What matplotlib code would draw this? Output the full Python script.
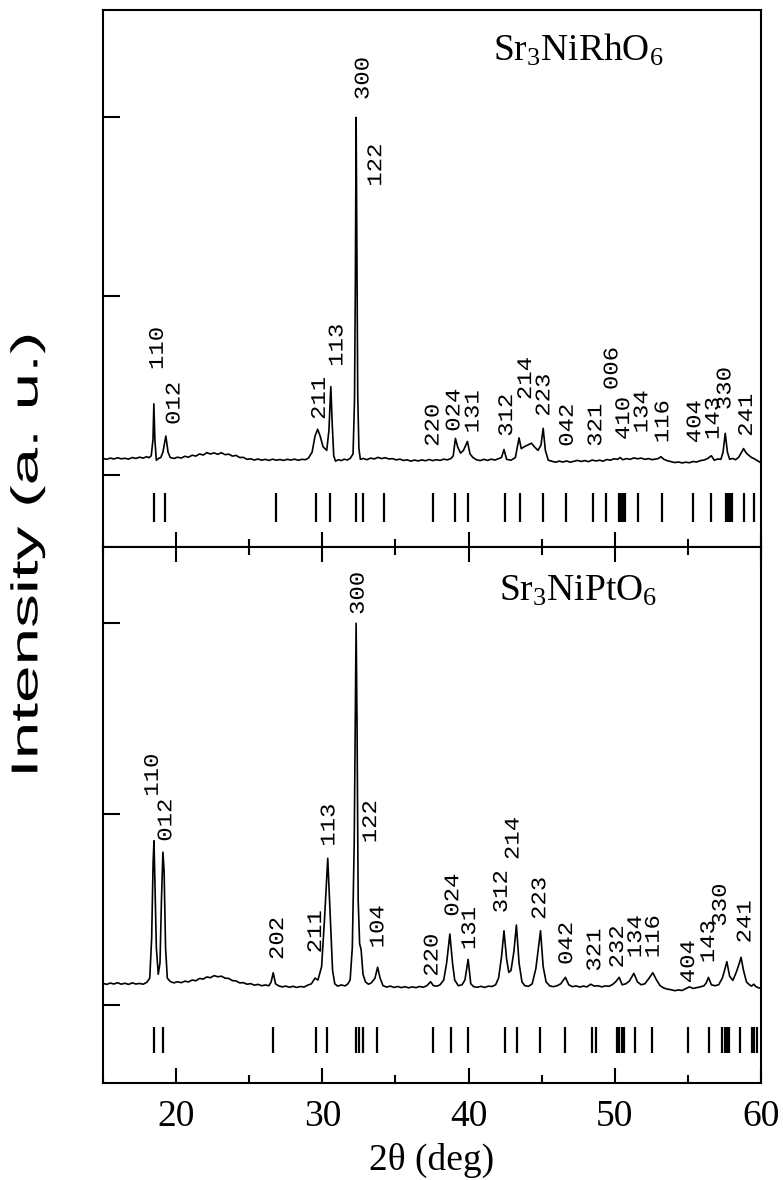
import matplotlib
matplotlib.use("Agg")
import matplotlib.pyplot as plt
from matplotlib.ticker import MultipleLocator, NullFormatter
from matplotlib.patheffects import AbstractPathEffect
from matplotlib.transforms import Affine2D

plt.rcParams['mathtext.fontset'] = 'custom'
plt.rcParams['mathtext.rm'] = 'Liberation Serif'
plt.rcParams['mathtext.it'] = 'Liberation Serif:italic'

# ---- Sr3NiRhO6 (top): pattern, arbitrary units ----
rh_x = [15.0, 15.25, 15.5, 15.75, 16.0, 16.25, 16.5, 16.75, 17.0, 17.25, 17.5, 17.75, 18.0, 18.15,
        18.3, 18.42, 18.48, 18.55, 18.65, 18.8, 18.95, 19.1, 19.3, 19.45, 19.6, 19.85, 20.1, 20.35,
        20.6, 20.85, 21.1, 21.35, 21.6, 21.85, 22.1, 22.35, 22.6, 22.85, 23.1, 23.35, 23.6, 23.85,
        24.1, 24.35, 24.6, 24.85, 25.1, 25.35, 25.6, 25.85, 26.1, 26.35, 26.6, 26.85, 27.1, 27.35,
        27.6, 27.85, 28.1, 28.35, 28.6, 28.85, 29.05, 29.3, 29.5, 29.68, 29.85, 30.05, 30.3, 30.45,
        30.58, 30.68, 30.78, 30.9, 31.1, 31.3, 31.5, 31.7, 31.9, 32.1, 32.2, 32.26, 32.31, 32.36,
        32.42, 32.5, 32.6, 32.8, 33.05, 33.3, 33.55, 33.8, 34.05, 34.3, 34.55, 34.8, 35.05, 35.3,
        35.55, 35.8, 36.05, 36.3, 36.55, 36.8, 37.05, 37.3, 37.55, 37.8, 38.05, 38.3, 38.55, 38.8,
        38.95, 39.1, 39.25, 39.45, 39.65, 39.92, 40.1, 40.3, 40.55, 40.8, 41.05, 41.3, 41.55, 41.8,
        42.05, 42.25, 42.42, 42.6, 42.9, 43.2, 43.45, 43.6, 43.8, 44.05, 44.3, 44.5, 44.75, 44.95,
        45.1, 45.25, 45.45, 45.7, 45.95, 46.2, 46.45, 46.7, 46.95, 47.2, 47.45, 47.7, 47.95, 48.2,
        48.45, 48.7, 48.95, 49.2, 49.45, 49.7, 49.95, 50.2, 50.35, 50.55, 50.8, 51.05, 51.3, 51.55,
        51.8, 52.05, 52.3, 52.55, 52.8, 53.0, 53.15, 53.35, 53.6, 53.85, 54.1, 54.35, 54.6, 54.85,
        55.1, 55.35, 55.6, 55.85, 56.1, 56.35, 56.6, 56.8, 57.05, 57.25, 57.4, 57.55, 57.7, 57.85,
        58.05, 58.25, 58.45, 58.6, 58.8, 58.95, 59.05, 59.2, 59.35, 59.5, 59.7, 59.85, 60.0]
rh_y = [0.095, 0.090, 0.097, 0.092, 0.099, 0.093, 0.096, 0.091, 0.100, 0.095, 0.102, 0.097, 0.105, 0.099,
        0.110, 0.20, 0.40, 0.20, 0.085, 0.095, 0.10, 0.13, 0.22, 0.13, 0.10, 0.095, 0.102, 0.097,
        0.107, 0.102, 0.113, 0.108, 0.12, 0.114, 0.127, 0.12, 0.126, 0.118, 0.127, 0.116, 0.119, 0.108,
        0.112, 0.100, 0.101, 0.090, 0.093, 0.086, 0.092, 0.085, 0.090, 0.084, 0.091, 0.085, 0.089, 0.084,
        0.090, 0.086, 0.091, 0.085, 0.090, 0.088, 0.097, 0.13, 0.22, 0.258, 0.22, 0.16, 0.14, 0.25,
        0.496, 0.28, 0.11, 0.08, 0.088, 0.083, 0.091, 0.086, 0.095, 0.12, 0.42, 1.10, 2.0, 1.25,
        0.45, 0.15, 0.09, 0.095, 0.088, 0.097, 0.092, 0.101, 0.094, 0.099, 0.092, 0.094, 0.087, 0.091,
        0.084, 0.087, 0.080, 0.086, 0.081, 0.087, 0.082, 0.089, 0.083, 0.088, 0.084, 0.091, 0.087, 0.095,
        0.11, 0.207, 0.16, 0.125, 0.14, 0.19, 0.12, 0.10, 0.087, 0.083, 0.090, 0.084, 0.091, 0.086,
        0.094, 0.10, 0.145, 0.09, 0.085, 0.10, 0.21, 0.15, 0.16, 0.17, 0.18, 0.16, 0.14, 0.17,
        0.263, 0.14, 0.085, 0.079, 0.074, 0.080, 0.075, 0.081, 0.074, 0.079, 0.084, 0.078, 0.083, 0.077,
        0.086, 0.081, 0.085, 0.080, 0.089, 0.085, 0.093, 0.090, 0.10, 0.088, 0.094, 0.090, 0.098, 0.093,
        0.097, 0.090, 0.094, 0.088, 0.092, 0.095, 0.105, 0.090, 0.082, 0.077, 0.072, 0.075, 0.070, 0.074,
        0.071, 0.078, 0.075, 0.083, 0.086, 0.095, 0.11, 0.085, 0.092, 0.090, 0.13, 0.235, 0.13, 0.09,
        0.095, 0.088, 0.10, 0.12, 0.15, 0.13, 0.12, 0.11, 0.10, 0.095, 0.085, 0.078, 0.07]

rh_bragg = [18.5, 19.25, 26.85, 29.55, 30.55, 32.3, 32.8, 34.2, 37.55, 39.05, 39.97, 42.5,
            43.55, 45.1, 46.65, 48.5, 49.4, 50.3, 50.4, 50.5, 50.6, 50.7, 51.6, 53.2, 55.35,
            56.6, 57.6, 57.7, 57.8, 57.9, 58.0, 58.8, 59.5]

rh_hkl = ['110', '012', '211', '113', '300', '122', '220', '024', '131', '312', '214', '223',
          '042', '321', '006', '410', '134', '116', '404', '143', '330', '241']
rh_hkl_x = [18.72, 19.86, 29.8, 31.0, 32.78, 33.65, 37.57, 39.0, 40.3, 42.6, 43.9, 45.15,
            46.75, 48.7, 49.8, 50.6, 51.85, 53.28, 55.47, 56.73, 57.53, 59.0]
rh_hkl_y = [0.589, 0.282, 0.31, 0.607, 2.097, 1.613, 0.16, 0.244, 0.235, 0.216, 0.421, 0.328,
            0.16, 0.16, 0.477, 0.198, 0.235, 0.18, 0.18, 0.198, 0.365, 0.216]

# ---- Sr3NiPtO6 (bottom) ----
pt_x = [15.0, 15.25, 15.5, 15.75, 16.0, 16.25, 16.5, 16.75, 17.0, 17.25, 17.5, 17.75, 18.0, 18.2,
        18.33, 18.43, 18.49, 18.55, 18.65, 18.78, 18.9, 19.0, 19.1, 19.18, 19.28, 19.4, 19.6, 19.85,
        20.1, 20.35, 20.6, 20.85, 21.1, 21.35, 21.6, 21.85, 22.1, 22.35, 22.6, 22.85, 23.1, 23.35,
        23.6, 23.85, 24.1, 24.35, 24.6, 24.85, 25.1, 25.35, 25.6, 25.85, 26.1, 26.35, 26.5, 26.64,
        26.8, 27.0, 27.25, 27.5, 27.75, 28.0, 28.25, 28.5, 28.75, 29.0, 29.25, 29.5, 29.7, 29.95,
        30.15, 30.37, 30.55, 30.7, 30.85, 31.05, 31.3, 31.55, 31.75, 31.9, 32.05, 32.18, 32.25, 32.31,
        32.37, 32.45, 32.55, 32.65, 32.78, 32.95, 33.15, 33.35, 33.6, 33.78, 33.95, 34.15, 34.4, 34.65,
        34.9, 35.15, 35.4, 35.65, 35.9, 36.15, 36.4, 36.65, 36.9, 37.15, 37.4, 37.6, 37.85, 38.05,
        38.3, 38.5, 38.72, 38.9, 39.05, 39.3, 39.55, 39.75, 39.97, 40.15, 40.35, 40.6, 40.85, 41.1,
        41.35, 41.6, 41.85, 42.05, 42.25, 42.42, 42.6, 42.75, 42.9, 43.1, 43.27, 43.45, 43.65, 43.85,
        44.1, 44.35, 44.6, 44.92, 45.1, 45.3, 45.55, 45.8, 46.05, 46.3, 46.62, 46.85, 47.1, 47.35,
        47.6, 47.85, 48.1, 48.35, 48.6, 48.85, 49.1, 49.35, 49.6, 49.85, 50.05, 50.3, 50.5, 50.75,
        51.0, 51.3, 51.55, 51.8, 52.05, 52.3, 52.6, 52.85, 53.1, 53.35, 53.6, 53.85, 54.1, 54.35,
        54.6, 54.85, 55.1, 55.35, 55.6, 55.85, 56.1, 56.25, 56.4, 56.6, 56.85, 57.1, 57.35, 57.5,
        57.66, 57.85, 58.07, 58.3, 58.48, 58.63, 58.8, 59.0, 59.2, 59.35, 59.5, 59.65, 59.8, 60.0]
pt_y = [0.113, 0.107, 0.114, 0.109, 0.116, 0.108, 0.113, 0.107, 0.115, 0.109, 0.112, 0.108, 0.118, 0.14,
        0.35, 0.75, 0.86, 0.65, 0.30, 0.16, 0.22, 0.55, 0.80, 0.70, 0.30, 0.14, 0.122, 0.115,
        0.121, 0.116, 0.124, 0.120, 0.130, 0.126, 0.138, 0.135, 0.146, 0.142, 0.153, 0.147, 0.150, 0.140,
        0.138, 0.127, 0.125, 0.115, 0.116, 0.108, 0.111, 0.103, 0.107, 0.100, 0.104, 0.100, 0.12, 0.168,
        0.11, 0.10, 0.094, 0.098, 0.092, 0.097, 0.091, 0.096, 0.093, 0.103, 0.11, 0.14, 0.13, 0.20,
        0.45, 0.768, 0.45, 0.18, 0.11, 0.098, 0.104, 0.099, 0.11, 0.13, 0.30, 0.85, 1.5, 2.0,
        1.5, 0.55, 0.32, 0.29, 0.16, 0.12, 0.108, 0.115, 0.14, 0.197, 0.14, 0.10, 0.093, 0.098,
        0.091, 0.096, 0.090, 0.095, 0.089, 0.094, 0.090, 0.096, 0.092, 0.10, 0.121, 0.10, 0.098, 0.105,
        0.13, 0.22, 0.371, 0.22, 0.13, 0.10, 0.105, 0.13, 0.238, 0.11, 0.095, 0.092, 0.097, 0.091,
        0.098, 0.096, 0.105, 0.14, 0.25, 0.388, 0.24, 0.17, 0.18, 0.28, 0.418, 0.22, 0.12, 0.10,
        0.097, 0.11, 0.19, 0.388, 0.20, 0.12, 0.099, 0.095, 0.10, 0.11, 0.144, 0.105, 0.095, 0.099,
        0.093, 0.098, 0.094, 0.108, 0.098, 0.10, 0.094, 0.099, 0.097, 0.107, 0.12, 0.144, 0.105, 0.11,
        0.125, 0.165, 0.12, 0.105, 0.11, 0.135, 0.168, 0.13, 0.10, 0.088, 0.082, 0.079, 0.074, 0.078,
        0.075, 0.085, 0.094, 0.086, 0.090, 0.094, 0.10, 0.115, 0.144, 0.105, 0.10, 0.105, 0.14, 0.18,
        0.226, 0.15, 0.128, 0.17, 0.21, 0.249, 0.18, 0.12, 0.105, 0.098, 0.108, 0.095, 0.09, 0.085]

pt_bragg = [18.5, 19.13, 26.66, 29.6, 30.35, 32.3, 32.48, 32.78, 33.75, 37.55, 38.77, 39.97,
            42.5, 43.3, 44.88, 46.6, 48.42, 48.7, 50.12, 50.3, 50.48, 50.65, 51.4, 52.55, 55.03,
            56.42, 57.35, 57.5, 57.65, 57.8, 58.58, 59.38, 59.55, 59.7]

pt_hkl = ['110', '012', '202', '211', '113', '300', '122', '104', '220', '024', '131', '312',
          '214', '223', '042', '321', '232', '134', '116', '404', '143', '330', '241']
pt_hkl_x = [18.38, 19.3, 26.94, 29.54, 30.45, 32.45, 33.3, 33.8, 37.5, 38.92, 40.07, 42.24,
            43.04, 44.87, 46.7, 48.63, 50.18, 51.42, 52.63, 55.04, 56.41, 57.21, 58.9]
pt_hkl_y = [1.091, 0.855, 0.235, 0.27, 0.829, 2.044, 0.847, 0.296, 0.147, 0.462, 0.287, 0.48,
            0.759, 0.445, 0.209, 0.174, 0.191, 0.244, 0.244, 0.113, 0.218, 0.41, 0.322]


class Stretch(AbstractPathEffect):
    # stretch glyphs about a fixed point (display pixels)
    def __init__(self, sx, sy, cx, cy):
        super().__init__()
        self._t = Affine2D().translate(-cx, -cy).scale(sx, sy).translate(cx, cy)

    def draw_path(self, renderer, gc, tpath, affine, rgbFace=None):
        renderer.draw_path(gc, tpath, affine + self._t, rgbFace)


fig = plt.figure(figsize=(7.83, 11.80), dpi=100)
ax1 = fig.add_axes([0.1315, 0.5364, 0.8405, 0.4551])
ax2 = fig.add_axes([0.1315, 0.0822, 0.8405, 0.4542], sharex=ax1)

panels = [
    (ax1, rh_x, rh_y, rh_bragg, rh_hkl, rh_hkl_x, rh_hkl_y, (-0.4, 2.6), (-0.26, -0.10),
     r'Sr$_3$NiRhO$_6$', 2.32),
    (ax2, pt_x, pt_y, pt_bragg, pt_hkl, pt_hkl_x, pt_hkl_y, (-0.41, 2.40), (-0.252, -0.116),
     r'Sr$_3$NiPtO$_6$', 2.12),
]

for ax, xs, ys, bragg, hkl, hx, hy, ylim, blim, name, name_y in panels:
    ax.set_xlim(15, 60)
    ax.set_ylim(*ylim)
    ax.plot(xs, ys, color='black', lw=1.2)
    ax.vlines(bragg, blim[0], blim[1], color='black', lw=1.6)
    for lab, lx, ly in zip(hkl, hx, hy):
        px, py = ax.transData.transform((lx, ly))
        # hkl labels look slightly spaced out along their reading direction
        ax.text(lx, ly, lab, rotation=90, ha='center', va='bottom',
                family='Liberation Mono', fontsize=15,
                path_effects=[Stretch(1.0, 1.15, px, py)])
    ax.text(47.5, name_y, name, ha='center', va='baseline',
            family='Liberation Serif', fontsize=27)
    ax.yaxis.set_major_locator(MultipleLocator(1))
    ax.yaxis.set_major_formatter(NullFormatter())
    ax.xaxis.set_major_locator(MultipleLocator(10))
    ax.xaxis.set_minor_locator(MultipleLocator(5))
    for s in ax.spines.values():
        s.set_linewidth(1.5)
    ax.tick_params(axis='y', which='major', direction='in', length=12, width=1.5,
                   left=True, right=False)
    ax.tick_params(axis='x', which='major', direction='in', length=11, width=1.5)
    ax.tick_params(axis='x', which='minor', direction='in', length=6, width=1.5)

ax1.tick_params(axis='x', which='both', top=False, bottom=True, labelbottom=False)
ax2.tick_params(axis='x', which='both', top=True, bottom=True, labelbottom=True,
                labelsize=27, pad=12)
for lab in ax2.get_xticklabels():
    lab.set_family('Liberation Serif')
ax2.set_xticks([20, 30, 40, 50, 60])

ax2.set_xlabel('2θ (deg)', family='Liberation Serif', fontsize=27, labelpad=6)

# y label is drawn long and narrow in the original
yl_x, yl_y = 0.035, 0.53
fig.text(yl_x, yl_y, 'Intensity (a. u.)', rotation=90, ha='center', va='center',
         family='Liberation Sans', fontsize=27,
         path_effects=[Stretch(1.0, 1.8, yl_x * 783, yl_y * 1180)])

fig.savefig('out.png', dpi=100)
